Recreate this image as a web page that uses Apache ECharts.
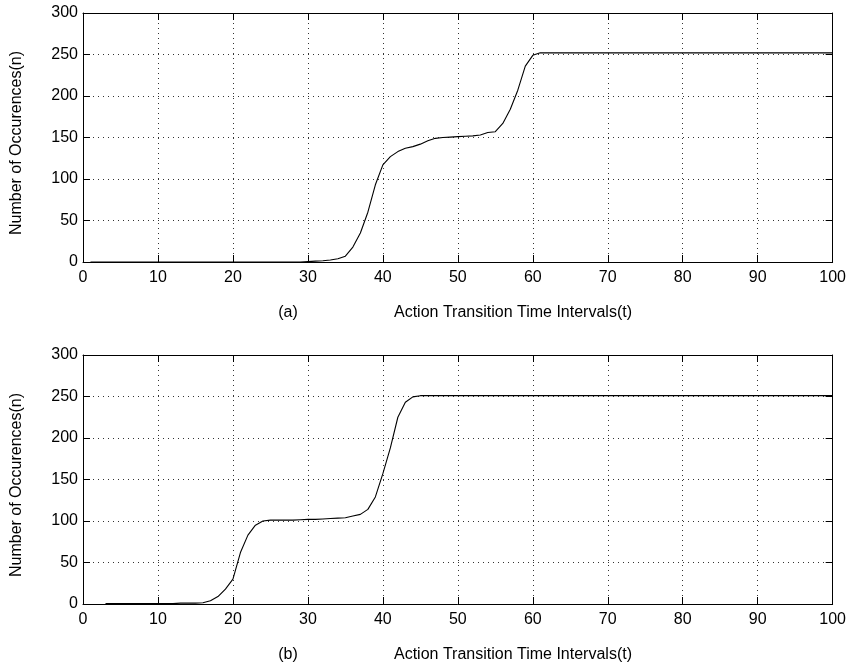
<!DOCTYPE html>
<html>
<head>
<meta charset="utf-8">
<script src="https://cdn.jsdelivr.net/npm/echarts@6/dist/echarts.min.js"></script>
<style>
html,body{margin:0;padding:0;background:#fff;}
#c{width:849px;height:668px;}
</style>
</head>
<body>
<div id="c"></div>
<script>
// Top panel (a): x starts at 1
var topStart = 1;
var topValues = [
  0,0,0,0,0,0,0,0,0,0,
  0,0,0,0,0,0,0,0,0,0,
  0,0,0,0,0,0,0,0,0,0.5,
  1,1.5,2.5,4,7,18,35,60,93,117,
  127,133,137,139,142,146,149,150,150.5,151,
  151.5,152,153,156,157,167,184,207,236,249,
  252,252,252,252,252,252,252,252,252,252,
  252,252,252,252,252,252,252,252,252,252,
  252,252,252,252,252,252,252,252,252,252,
  252,252,252,252,252,252,252,252,252,252
];
// Bottom panel (b): x starts at 3
var botStart = 3;
var botValues = [
  0.5,0.5,0.5,0.5,0.5,0.5,0.5,0.5,
  0.5,0.5,1,1,1,1.5,4,9,18,30,
  62,83,95,100,101,101,101,101,101.5,102,
  102,102.5,103,103.5,104,106,108,114,129,157,
  188,225,243,249.5,251,251,251,251,251,251,
  251,251,251,251,251,251,251,251,251,251,
  251,251,251,251,251,251,251,251,251,251,
  251,251,251,251,251,251,251,251,251,251,
  251,251,251,251,251,251,251,251,251,251,
  251,251,251,251,251,251,251,251,251,251
];
var xTicks = {min: 0, max: 100, interval: 10};
var yTicks = {min: 0, max: 300, interval: 50};
var xLabelText = 'Action Transition Time Intervals(t)';
var yLabelText = 'Number of Occurences(n)';
var panelLabels = ['(a)', '(b)'];

function pairs(start, vals) {
  return vals.map(function (v, i) { return [start + i, v]; });
}

var FONT = 'Liberation Sans, Arial, Helvetica, sans-serif';
var FS = 16;

function xAx(grid, pos, main) {
  return {
    type: 'value', gridIndex: grid, position: pos,
    min: xTicks.min, max: xTicks.max, interval: xTicks.interval,
    axisLine: {show: true, onZero: false, lineStyle: {color: '#000', width: 1}},
    axisTick: {show: true, inside: true, length: 7, lineStyle: {color: '#000', width: 1}},
    axisLabel: {show: main, color: '#000', fontFamily: FONT, fontSize: FS, margin: 8},
    splitLine: {show: main, lineStyle: {color: '#333', width: 1, type: [1, 4]}}
  };
}
function yAx(grid, pos, main) {
  return {
    type: 'value', gridIndex: grid, position: pos,
    min: yTicks.min, max: yTicks.max, interval: yTicks.interval,
    axisLine: {show: true, onZero: false, lineStyle: {color: '#000', width: 1}},
    axisTick: {show: true, inside: true, length: 7, lineStyle: {color: '#000', width: 1}},
    axisLabel: {show: main, color: '#000', fontFamily: FONT, fontSize: FS, margin: 5},
    splitLine: {show: main, lineStyle: {color: '#333', width: 1, type: [1, 4]}}
  };
}

var chart = echarts.init(document.getElementById('c'), null, {renderer: 'canvas'});
var txt = function (x, y, s, rot) {
  return {
    type: 'text', x: x, y: y, rotation: rot || 0,
    style: {text: s, fill: '#000', font: FS + 'px ' + FONT, textAlign: 'center', textVerticalAlign: 'middle'}
  };
};
chart.setOption({
  backgroundColor: '#fff',
  animation: false,
  grid: [
    {left: 83, top: 13, width: 750, height: 249},
    {left: 83, top: 355, width: 750, height: 249}
  ],
  xAxis: [xAx(0, 'bottom', true), xAx(0, 'top', false), xAx(1, 'bottom', true), xAx(1, 'top', false)],
  yAxis: [yAx(0, 'left', true), yAx(0, 'right', false), yAx(1, 'left', true), yAx(1, 'right', false)],
  series: [
    {type: 'line', xAxisIndex: 0, yAxisIndex: 0, data: pairs(topStart, topValues), showSymbol: false,
     lineStyle: {color: '#000', width: 1.1}, silent: true},
    {type: 'line', xAxisIndex: 2, yAxisIndex: 2, data: pairs(botStart, botValues), showSymbol: false,
     lineStyle: {color: '#000', width: 1.1}, silent: true}
  ],
  graphic: [
    txt(288, 313, panelLabels[0]),
    txt(513, 313, xLabelText),
    txt(288, 655, panelLabels[1]),
    txt(513, 655, xLabelText),
    txt(17, 143, yLabelText, Math.PI / 2),
    txt(17, 485, yLabelText, Math.PI / 2)
  ]
});
</script>
</body>
</html>
